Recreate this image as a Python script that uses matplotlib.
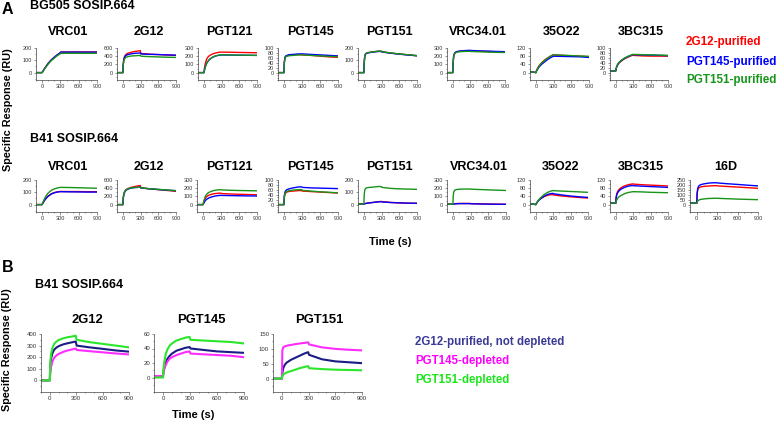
import matplotlib
matplotlib.use("Agg")
import matplotlib.pyplot as plt
from matplotlib.ticker import FixedLocator

plt.rcParams['font.family'] = ['Liberation Sans', 'DejaVu Sans']

# sample times (s)
T = [-100, 0, 5, 15, 30, 50, 75, 100, 150, 200, 250, 295, 305, 450, 600, 750, 900]

# panel A, BG505 SOSIP.664: (2G12-purified, PGT145-purified, PGT151-purified)
bg505_vrc01 = ([0, 0, 4, 12, 25, 40, 58, 75, 103, 125, 145, 160, 168, 168, 168, 168, 168],
               [0, 0, 4, 12, 25, 40, 58, 75, 103, 125, 145, 160, 166, 166, 167, 166, 166],
               [0, 0, 3, 10, 22, 37, 53, 70, 97, 118, 138, 152, 157, 157, 157, 157, 157])
bg505_2g12 = ([0, 0, 200, 330, 400, 440, 465, 480, 500, 515, 525, 535, 465, 450, 440, 430, 420],
              [0, 0, 190, 310, 380, 415, 435, 445, 460, 470, 475, 480, 455, 445, 440, 432, 425],
              [0, 0, 170, 280, 340, 370, 385, 395, 405, 410, 415, 420, 400, 390, 382, 375, 370])
bg505_pgt121 = ([0, 0, 30, 80, 130, 170, 195, 210, 228, 240, 247, 250, 250, 248, 246, 244, 242],
                [0, 0, 15, 45, 84, 118, 143, 163, 188, 203, 211, 215, 215, 214, 212, 211, 210],
                [0, 0, 15, 45, 85, 120, 145, 165, 190, 205, 213, 217, 217, 215, 213, 212, 210])
bg505_pgt145 = ([0, 0, 40, 60, 66, 68, 70, 71, 72, 73, 73, 73, 72, 70, 67, 64, 62],
                [0, 0, 40, 62, 68, 70, 72, 73, 74, 75, 76, 76, 76, 74, 72, 70, 68],
                [0, 0, 38, 58, 64, 67, 68, 69, 70, 71, 72, 72, 72, 70, 68, 66, 65])
bg505_pgt151 = ([0, 0, 78, 138, 153, 159, 162, 164, 167, 171, 173, 173, 169, 159, 151, 144, 137],
                [0, 0, 75, 135, 152, 158, 161, 163, 166, 170, 172, 172, 168, 158, 150, 143, 137],
                [0, 0, 80, 140, 155, 160, 163, 165, 168, 172, 175, 175, 170, 160, 152, 145, 138])
bg505_vrc34 = ([0, 0, 118, 198, 232, 247, 254, 258, 262, 265, 267, 268, 266, 262, 258, 254, 250],
               [0, 0, 120, 200, 235, 250, 257, 261, 265, 268, 270, 272, 270, 265, 262, 258, 255],
               [0, 0, 115, 195, 228, 242, 249, 253, 256, 258, 259, 260, 258, 254, 250, 247, 245])
bg505_35o22 = ([5, 0, 6, 13, 22, 32, 41, 49, 62, 72, 81, 87, 86, 84, 82, 80, 78],
               [5, 0, 4, 10, 17, 26, 34, 41, 53, 64, 73, 80, 80, 79, 78, 77, 74],
               [5, 0, 5, 12, 20, 30, 39, 47, 60, 71, 80, 87, 87, 85, 83, 81, 79])
bg505_3bc315 = ([7, 7, 14, 22, 30, 37, 43, 48, 56, 62, 67, 71, 70, 68, 67, 67, 67],
                [7, 7, 15, 24, 32, 39, 45, 50, 58, 64, 69, 73, 73, 72, 71, 70, 69],
                [7, 7, 16, 25, 33, 40, 46, 51, 59, 65, 70, 74, 74, 73, 72, 71, 70])

# panel A, B41 SOSIP.664
b41_vrc01 = ([0, 0, 5, 14, 28, 43, 58, 70, 88, 98, 104, 107, 107, 106, 106, 105, 105],
             [0, 0, 5, 13, 26, 41, 56, 68, 86, 96, 102, 105, 105, 104, 103, 102, 102],
             [0, 0, 8, 20, 38, 58, 78, 95, 115, 128, 135, 140, 140, 139, 137, 135, 133])
b41_2g12 = ([0, 0, 150, 260, 320, 360, 385, 400, 425, 440, 455, 465, 410, 385, 365, 345, 325],
            [0, 0, 140, 245, 305, 345, 370, 385, 405, 415, 420, 425, 405, 385, 368, 352, 338],
            [0, 0, 145, 255, 315, 355, 378, 392, 410, 418, 422, 425, 408, 388, 372, 356, 342])
b41_pgt121 = ([0, 0, 12, 35, 65, 90, 105, 115, 128, 135, 138, 140, 135, 130, 126, 123, 120],
              [0, 0, 6, 20, 40, 58, 72, 82, 95, 104, 110, 113, 112, 110, 108, 106, 105],
              [0, 0, 15, 45, 85, 115, 137, 150, 165, 175, 180, 182, 180, 175, 172, 170, 168])
b41_pgt145 = ([0, 0, 28, 42, 48, 51, 53, 54, 55, 56, 57, 57, 55, 53, 51, 49, 47],
              [0, 0, 35, 50, 57, 61, 63, 65, 68, 70, 72, 72, 70, 68, 67, 66, 65],
              [0, 0, 30, 45, 51, 54, 56, 57, 59, 60, 61, 61, 58, 55, 52, 50, 48])
b41_pgt151 = ([5, 5, 6, 8, 10, 12, 14, 15, 18, 21, 24, 26, 24, 18, 14, 12, 10],
              [5, 5, 5, 7, 9, 11, 13, 14, 17, 20, 22, 24, 22, 17, 14, 12, 11],
              [5, 5, 80, 120, 132, 137, 139, 140, 142, 145, 147, 147, 140, 132, 128, 126, 124])
b41_vrc34 = ([5, 5, 7, 9, 11, 12, 13, 14, 14, 14, 14, 14, 12, 9, 7, 5, 4],
             [5, 5, 6, 8, 9, 10, 11, 12, 12, 12, 12, 12, 10, 8, 6, 5, 4],
             [5, 5, 100, 155, 175, 182, 185, 187, 189, 190, 190, 190, 188, 184, 180, 176, 172])
b41_35o22 = ([5, 0, 4, 9, 15, 22, 28, 32, 40, 45, 48, 49, 47, 42, 38, 35, 32],
             [5, 0, 3, 7, 13, 20, 27, 32, 42, 49, 53, 55, 53, 47, 42, 38, 35],
             [5, 0, 3, 8, 15, 23, 31, 38, 50, 59, 65, 69, 68, 66, 64, 62, 60])
b41_3bc315 = ([7, 7, 35, 52, 63, 72, 79, 84, 91, 96, 99, 101, 100, 97, 95, 93, 91],
              [7, 7, 30, 46, 57, 65, 72, 77, 84, 89, 92, 93, 92, 90, 88, 86, 84],
              [7, 7, 15, 22, 30, 37, 42, 46, 53, 58, 61, 63, 63, 62, 60, 59, 58])
b41_16d = ([15, 15, 110, 155, 170, 178, 182, 185, 188, 190, 192, 192, 190, 184, 178, 172, 165],
           [15, 15, 120, 170, 190, 200, 206, 210, 216, 220, 222, 222, 220, 212, 205, 197, 190],
           [15, 15, 25, 38, 46, 52, 55, 57, 61, 63, 64, 65, 64, 60, 56, 53, 50])

# panel B, B41 SOSIP.664: (2G12-purified not depleted, PGT145-depleted, PGT151-depleted)
dep_2g12 = ([0, 0, 120, 190, 235, 265, 283, 295, 310, 320, 328, 335, 300, 285, 272, 258, 248],
            [0, 0, 60, 120, 165, 195, 215, 228, 245, 258, 266, 275, 262, 252, 242, 232, 224],
            [0, 0, 150, 230, 280, 315, 335, 348, 362, 372, 378, 385, 350, 330, 315, 300, 285])
dep_pgt145 = ([1, 1, 8, 14, 20, 26, 30, 33, 37, 39, 41, 42, 40, 38, 36, 35, 34],
              [2, 2, 7, 12, 17, 22, 26, 28, 31, 33, 35, 36, 33, 32, 31, 30, 28],
              [0, 0, 12, 22, 32, 39, 44, 47, 51, 53, 55, 56, 52, 51, 50, 49, 47])
dep_pgt151 = ([0, 0, 20, 35, 45, 53, 58, 63, 70, 77, 84, 89, 80, 65, 58, 55, 52],
              [0, 0, 95, 105, 108, 110, 112, 113, 116, 118, 120, 122, 115, 105, 100, 97, 95],
              [0, 0, 8, 13, 17, 20, 23, 25, 30, 35, 39, 42, 35, 32, 30, 29, 28])

legend_a = ["2G12-purified", "PGT145-purified", "PGT151-purified"]
colors_a = ["#ff0000", "#0000ff", "#17941a"]
legend_b = ["2G12-purified, not depleted", "PGT145-depleted", "PGT151-depleted"]
colors_b = ["#1c1c86", "#ff2cff", "#2be62b"]
legend_b_text = ["#3a3a96", "#ff00ff", "#19e619"]

# (title, yticks, data, left px, right px)
row1 = [("VRC01", [0, 100, 200], bg505_vrc01, 36, 97),
        ("2G12", [0, 200, 400, 600], bg505_2g12, 117, 176),
        ("PGT121", [0, 100, 200, 300], bg505_pgt121, 198, 257),
        ("PGT145", [0, 20, 40, 60, 80, 100], bg505_pgt145, 278, 338),
        ("PGT151", [0, 100, 200], bg505_pgt151, 358, 417),
        ("VRC34.01", [0, 100, 200, 300], bg505_vrc34, 447, 505),
        ("35O22", [0, 40, 80, 120], bg505_35o22, 530, 589),
        ("3BC315", [0, 20, 40, 60, 80, 100], bg505_3bc315, 610, 668)]
row2 = [("VRC01", [0, 100, 200], b41_vrc01, 36, 97),
        ("2G12", [0, 200, 400, 600], b41_2g12, 117, 176),
        ("PGT121", [0, 100, 200, 300], b41_pgt121, 197, 257),
        ("PGT145", [0, 20, 40, 60, 80, 100], b41_pgt145, 278, 338),
        ("PGT151", [0, 100, 200], b41_pgt151, 358, 417),
        ("VRC34.01", [0, 100, 200, 300], b41_vrc34, 447, 506),
        ("35O22", [0, 40, 80, 120], b41_35o22, 530, 588),
        ("3BC315", [0, 40, 80, 120], b41_3bc315, 610, 668),
        ("16D", [0, 50, 100, 150, 200, 250], b41_16d, 690, 758)]
row3 = [("2G12", [0, 100, 200, 300, 400], dep_2g12, 41, 129, -100),
        ("PGT145", [0, 20, 40, 60], dep_pgt145, 154, 244, -20),
        ("PGT151", [0, 50, 100, 150], dep_pgt151, 273, 362, -45)]

W, H = 776, 421
fig = plt.figure(figsize=(W / 100, H / 100), dpi=100)


def txt(x, y, s, **kw):
    fig.text(x / W, 1 - y / H, s, **kw)


def panel(title, yticks, data, x0, x1, top, bottom, title_y, colors,
          ymin=None, lw=1.0, fs=4, tfs=9):
    ax = fig.add_axes([x0 / W, 1 - bottom / H, (x1 - x0) / W, (bottom - top) / H])
    ymax = yticks[-1]
    if ymin is None:
        ymin = -0.3 * ymax
    for ys, c in zip(data, colors):
        ax.plot(T, ys, color=c, lw=lw, solid_joinstyle='round')
    ax.set_xlim(-100, 900)
    ax.set_ylim(ymin, ymax)
    ax.xaxis.set_major_locator(FixedLocator([0, 300, 600, 900]))
    ax.xaxis.set_minor_locator(FixedLocator([-100, 100, 200, 400, 500, 700, 800]))
    ax.yaxis.set_major_locator(FixedLocator(yticks))
    step = yticks[1] - yticks[0]
    minor = []
    v = step / 2
    while v < ymax:
        if v not in yticks:
            minor.append(v)
        v += step / 2
    v = -step / 2
    while v >= ymin - 1e-9:
        minor.append(v)
        v -= step / 2
    ax.yaxis.set_minor_locator(FixedLocator(minor))
    for s in ['top', 'right']:
        ax.spines[s].set_visible(False)
    for s in ['left', 'bottom']:
        ax.spines[s].set_linewidth(0.5)
        ax.spines[s].set_color('#444444')
    ax.tick_params(which='major', length=1.8, width=0.4, pad=1, labelsize=fs,
                   colors='#444444', labelcolor='#333333')
    ax.tick_params(which='minor', length=1.0, width=0.4, colors='#444444')
    ax.patch.set_alpha(0)
    txt((x0 + x1) / 2 + 2, title_y, title, ha='center', va='center',
        fontsize=tfs, fontweight='bold')
    return ax


for title, yt, data, x0, x1 in row1:
    panel(title, yt, data, x0, x1, 48, 80, 32, colors_a)
for title, yt, data, x0, x1 in row2:
    panel(title, yt, data, x0, x1, 180, 212, 167, colors_a)
for title, yt, data, x0, x1, ymin in row3:
    panel(title, yt, data, x0, x1, 334, 392, 320, colors_b, ymin=ymin,
          lw=1.5, fs=4.3, tfs=9.4)

# panel letters and headings
txt(2, 10, "A", fontsize=11.5, fontweight='bold', va='center')
txt(30, 6, "BG505 SOSIP.664", fontsize=9, fontweight='bold', va='center')
txt(30, 139, "B41 SOSIP.664", fontsize=9, fontweight='bold', va='center')
txt(390, 242, "Time (s)", fontsize=8, fontweight='bold', ha='center', va='center')
txt(8, 110, "Specific Response (RU)", fontsize=7.8, fontweight='bold',
    rotation=90, ha='center', va='center')

txt(2, 268, "B", fontsize=11.5, fontweight='bold', va='center')
txt(35, 285, "B41 SOSIP.664", fontsize=9, fontweight='bold', va='center')
txt(193, 415, "Time (s)", fontsize=8, fontweight='bold', ha='center', va='center')
txt(7, 350, "Specific Response (RU)", fontsize=7.8, fontweight='bold',
    rotation=90, ha='center', va='center')

for lab, c, y in zip(legend_a, colors_a, [42, 62, 80]):
    txt(686, y, lab, fontsize=8.4, fontweight='bold', color=c, va='center')
for lab, c, y in zip(legend_b, legend_b_text, [342, 361, 380]):
    txt(415, y, lab, fontsize=8.3, fontweight='bold', color=c, va='center')

fig.savefig("out.png", dpi=100)
